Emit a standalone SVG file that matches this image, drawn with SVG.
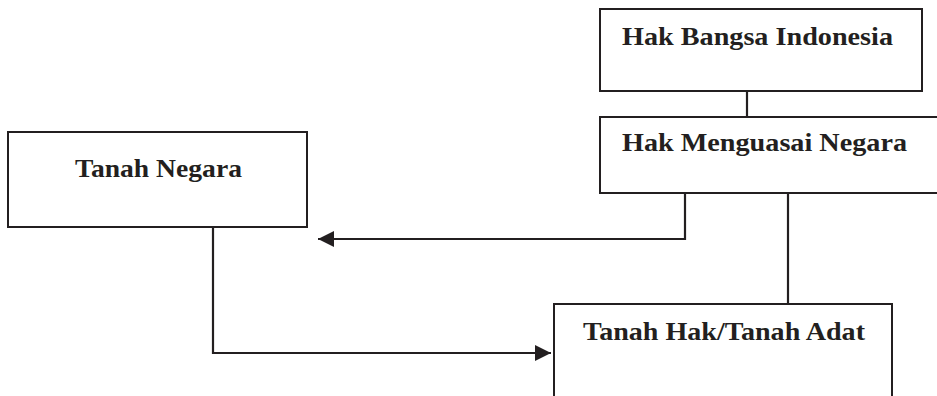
<svg xmlns="http://www.w3.org/2000/svg" width="937" height="396" viewBox="0 0 937 396">
<style>
.box{fill:#fff;stroke:#231f20;stroke-width:2}
.lbl{font-family:"Liberation Serif","DejaVu Serif",serif;font-weight:bold;font-size:25px;fill:#231f20}
.con{fill:none;stroke:#231f20;stroke-width:2.2}
</style>
<defs>
<marker id="ah" markerUnits="userSpaceOnUse" markerWidth="18" markerHeight="18" refX="16" refY="8" orient="auto">
<path d="M0,0 L16,8 L0,16 Z" fill="#231f20"/>
</marker>
</defs>
<rect width="937" height="396" fill="#fff"/>
<g id="connectors">
<line class="con" x1="747" y1="91" x2="747" y2="117"/>
<path class="con" d="M685,193 V239 H318" marker-end="url(#ah)"/>
<path class="con" d="M213,227 V353 H551" marker-end="url(#ah)"/>
<line class="con" x1="788" y1="193" x2="788" y2="304"/>
</g>
<g id="hak-bangsa">
<rect class="box" x="600" y="9" width="322" height="82"/>
<text class="lbl" x="622" y="45" textLength="271" lengthAdjust="spacingAndGlyphs">Hak Bangsa Indonesia</text>
</g>
<g id="hak-menguasai">
<rect class="box" x="600" y="117" width="345" height="76"/>
<text class="lbl" x="622" y="151" textLength="285" lengthAdjust="spacingAndGlyphs">Hak Menguasai Negara</text>
</g>
<g id="tanah-negara">
<rect class="box" x="8" y="132" width="299" height="95"/>
<text class="lbl" x="75" y="177" textLength="167" lengthAdjust="spacingAndGlyphs">Tanah Negara</text>
</g>
<g id="tanah-hak">
<rect class="box" x="554" y="304" width="338" height="110"/>
<text class="lbl" x="583" y="340" textLength="282" lengthAdjust="spacingAndGlyphs">Tanah Hak/Tanah Adat</text>
</g>
</svg>
